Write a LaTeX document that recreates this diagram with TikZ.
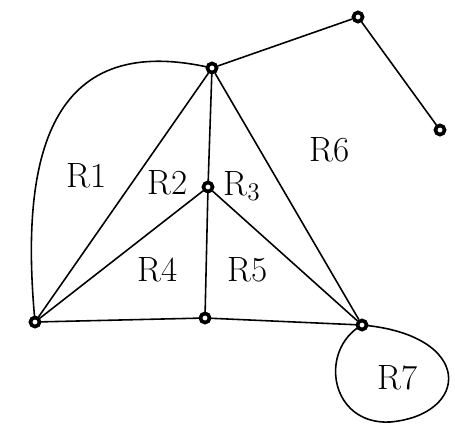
\documentclass[tikz,border=0pt]{standalone}
\usepackage{tikz}

\begin{document}
\begin{tikzpicture}[x=0.02cm, y=-0.02cm,
    vtx/.style={draw, circle, line width=2pt, fill=white, inner sep=1.8pt},
    reg/.style={font=\fontsize{20}{24}\selectfont},
    every path/.style={line width=0.9pt}]
      \useasboundingbox (0,0) rectangle (455,433);
      \node[vtx] (a) at (212,68) {};
      \node[vtx] (b) at (358,17) {};
      \node[vtx] (c) at (440,130) {};
      \node[vtx] (m) at (208,187) {};
      \node[vtx] (l) at (35,322) {};
      \node[vtx] (d) at (205,318) {};
      \node[vtx] (e) at (362,325) {};

      \node[reg] (r1) at (87,176) {R1};
      \node[reg] (r2) at (168,183) {R2};
      \node[reg] (r3) at (242,186) {R$_3$};
      \node[reg] (r4) at (158,270) {R4};
      \node[reg] (r5) at (248,270) {R5};
      \node[reg] (r6) at (330,150) {R6};
      \node[reg] (r7) at (398,378) {R7};

      \draw (a) -- (b);
      \draw (b) -- (c);
      \draw (a) to [out=168, in=95, looseness=1.35] (l);
      \draw (a) -- (l);
      \draw (a) -- (m);
      \draw (a) -- (e);
      \draw (m) -- (l);
      \draw (m) -- (e);
      \draw (m) -- (d);
      \draw (l) -- (d);
      \draw (d) -- (e);
      \draw (e.center) .. controls (318,350) and (330,425) .. (390,422)
                       .. controls (470,415) and (475,335) .. (e.center);
      \foreach \v in {a,b,c,m,l,d,e} \node[vtx] at (\v) {};
\end{tikzpicture}
\end{document}
